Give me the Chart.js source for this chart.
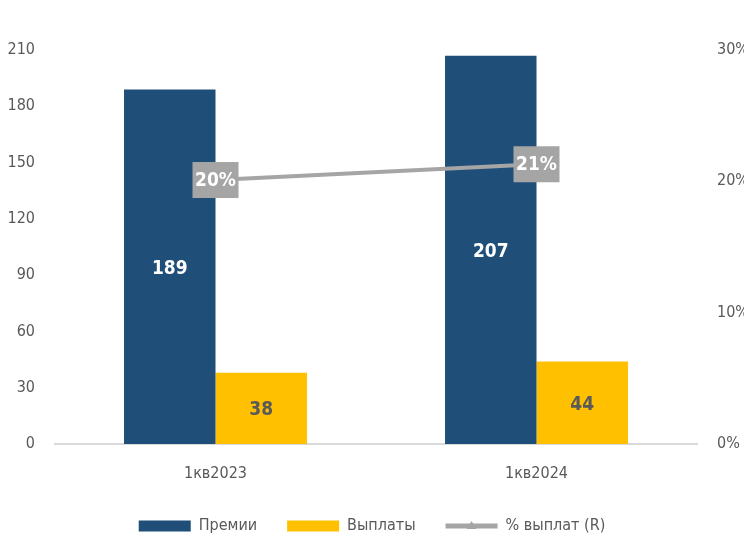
<!DOCTYPE html>
<html lang="ru">
<head>
  <meta charset="UTF-8">
  <title>Премии и выплаты</title>
  <script src="https://cdn.jsdelivr.net/npm/chart.js"></script>
  <style>
    body {
      margin: 0;
      background: #fff;
    }
    #wrap {
      width: 744px;
      height: 538px;
    }
  </style>
</head>
<body>
  <div id="wrap"><canvas id="chart"></canvas></div>

  <script>
    const categories = ["1кв2023", "1кв2024"];
    const premiums = [189, 207];
    const payouts = [38, 44];
    const payoutRatio = [20.1, 21.3];
    const leftTicks = [0, 30, 60, 90, 120, 150, 180, 210];
    const rightTicks = [0, 10, 20, 30];

    const FONT = '"DejaVu Sans Condensed", "Liberation Sans Narrow", "Roboto", sans-serif';
    const BLUE = '#1F4E79';
    const YELLOW = '#FFC000';
    const GREY = '#A5A5A5';
    const TEXT = '#595959';

    // value labels inside bars and boxed labels on the line
    const labelsPlugin = {
      id: 'valueLabels',
      afterDatasetsDraw(chart) {
        const ctx = chart.ctx;
        ctx.save();
        ctx.textAlign = 'center';
        ctx.textBaseline = 'middle';
        ctx.font = 'bold 19px ' + FONT;
        chart.data.datasets.forEach((ds, i) => {
          const meta = chart.getDatasetMeta(i);
          meta.data.forEach((el, j) => {
            const v = ds.data[j];
            if (ds.type === 'line') {
              const txt = Math.round(v) + '%';
              const w = 46, h = 36;
              ctx.fillStyle = GREY;
              ctx.fillRect(el.x - w / 2, el.y - h / 2, w, h);
              ctx.fillStyle = '#fff';
              ctx.fillText(txt, el.x, el.y + 1);
            } else {
              const midY = (el.y + el.base) / 2;
              ctx.fillStyle = i === 0 ? '#fff' : TEXT;
              ctx.fillText(String(v), el.x, midY + 2);
            }
          });
        });
        ctx.restore();
      },
      afterDraw(chart) {
        // triangle marker on the line legend entry
        const legend = chart.legend;
        if (!legend || !legend.legendHitBoxes) return;
        const box = legend.legendHitBoxes[2];
        if (!box) return;
        const ctx = chart.ctx;
        const cx = box.left + 26;
        const cy = box.top + box.height / 2;
        ctx.save();
        ctx.fillStyle = GREY;
        ctx.beginPath();
        ctx.moveTo(cx - 5, cy + 3);
        ctx.lineTo(cx + 5, cy + 3);
        ctx.lineTo(cx, cy - 5);
        ctx.closePath();
        ctx.fill();
        ctx.restore();
      }
    };

    const ctx = document.getElementById('chart').getContext('2d');
    const chart = new Chart(ctx, {
      type: 'bar',
      data: {
        labels: categories,
        datasets: [
          {
            label: 'Премии',
            data: premiums,
            backgroundColor: BLUE,
            yAxisID: 'y',
            order: 2
          },
          {
            label: 'Выплаты',
            data: payouts,
            backgroundColor: YELLOW,
            yAxisID: 'y',
            order: 2
          },
          {
            type: 'line',
            label: '% выплат (R)',
            data: payoutRatio,
            borderColor: GREY,
            backgroundColor: GREY,
            borderWidth: 4,
            pointRadius: 0,
            yAxisID: 'y1',
            order: 1
          }
        ]
      },
      options: {
        responsive: true,
        maintainAspectRatio: false,
        animation: false,
        categoryPercentage: 0.57,
        barPercentage: 1,
        layout: {
          padding: { top: 50, bottom: -6, left: 0, right: 0 }
        },
        plugins: {
          tooltip: { enabled: false },
          legend: {
            position: 'bottom',
            labels: {
              font: { family: FONT, size: 16 },
              color: TEXT,
              usePointStyle: true,
              pointStyleWidth: 52,
              boxHeight: 11,
              padding: 30,
              generateLabels(chart) {
                return chart.data.datasets.map((ds, i) => ({
                  text: ds.label,
                  fillStyle: ds.backgroundColor,
                  strokeStyle: ds.type === 'line' ? GREY : ds.backgroundColor,
                  lineWidth: ds.type === 'line' ? 5 : 0,
                  pointStyle: ds.type === 'line' ? 'line' : 'rect',
                  fontColor: TEXT,
                  datasetIndex: i
                }));
              }
            }
          }
        },
        scales: {
          x: {
            afterFit(axis) { axis.height = 44; },
            grid: { display: false, drawTicks: false },
            border: { color: '#D9D9D9', width: 2 },
            ticks: {
              font: { family: FONT, size: 16 },
              color: TEXT,
              padding: 20
            }
          },
          y: {
            position: 'left',
            min: 0,
            max: 210,
            afterBuildTicks(axis) {
              axis.ticks = leftTicks.map(v => ({ value: v }));
            },
            afterFit(axis) { axis.width = 55; },
            grid: { display: false, drawTicks: false },
            border: { display: false },
            ticks: {
              font: { family: FONT, size: 16 },
              color: TEXT,
              padding: 20
            }
          },
          y1: {
            position: 'right',
            min: 0,
            max: 30,
            afterBuildTicks(axis) {
              axis.ticks = rightTicks.map(v => ({ value: v }));
            },
            afterFit(axis) { axis.width = 47; },
            grid: { display: false, drawTicks: false },
            border: { display: false },
            ticks: {
              font: { family: FONT, size: 16 },
              color: TEXT,
              padding: 20,
              callback: v => v + '%'
            }
          }
        }
      },
      plugins: [labelsPlugin]
    });
  </script>
</body>
</html>
